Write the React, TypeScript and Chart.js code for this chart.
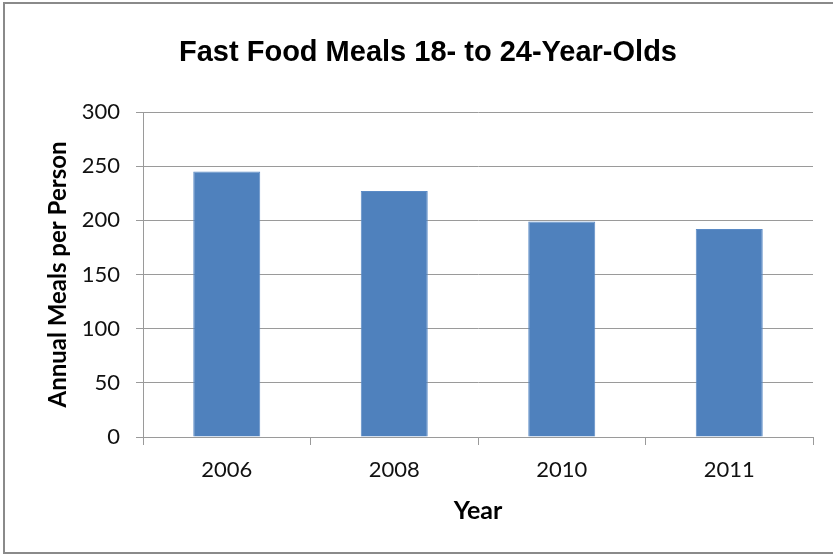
import React, { useEffect, useRef } from "react";
import { Chart, registerables } from "chart.js";

Chart.register(...registerables);

const years: string[] = ["2006", "2008", "2010", "2011"];
const meals: number[] = [245, 227, 199, 192];
const yTicks: number[] = [0, 50, 100, 150, 200, 250, 300];

const chartTitle = "Fast Food Meals 18- to 24-Year-Olds";
const xTitle = "Year";
const yTitle = "Annual Meals per Person";

const GRID = "#9a9a9a";

const framePlugin = {
  id: "frame",
  beforeDraw(chart: any) {
    const ctx = chart.ctx;
    ctx.save();
    ctx.fillStyle = "#ffffff";
    ctx.fillRect(0, 0, chart.width, chart.height);
    ctx.strokeStyle = "#8a8a8a";
    ctx.lineWidth = 2;
    ctx.strokeRect(4, 3, chart.width + 10, chart.height - 6);
    ctx.restore();
  },
};

export default function App() {
  const ref = useRef<HTMLCanvasElement | null>(null);

  useEffect(() => {
    if (!ref.current) return;
    const chart = new Chart(ref.current, {
      type: "bar",
      data: {
        labels: years,
        datasets: [
          {
            data: meals,
            backgroundColor: "#4f81bd",
            borderColor: "#5b8bc6",
            borderWidth: 1,
            categoryPercentage: 1,
            barPercentage: 0.4,
          },
        ],
      },
      plugins: [framePlugin],
      options: {
        responsive: false,
        animation: false,
        layout: { padding: { left: 43, right: 20, top: 0, bottom: 0 } },
        plugins: {
          legend: { display: false },
          tooltip: { enabled: false },
          title: {
            display: true,
            text: chartTitle,
            color: "#000000",
            font: { family: "'Liberation Sans', Arial", weight: "bold", size: 29, lineHeight: 1.2 },
            padding: { top: 35.1, bottom: 42.1 },
          },
        },
        scales: {
          x: {
            offset: true,
            grid: {
              drawOnChartArea: false,
              drawTicks: true,
              tickLength: 8,
              color: GRID,
              offset: true,
            },
            border: { display: true, color: GRID, width: 1 },
            ticks: {
              color: "#111111",
              font: { family: "Lato", size: 22 },
              padding: 12,
            },
            title: {
              display: true,
              text: xTitle,
              color: "#000000",
              font: { family: "Lato", weight: "bold", size: 25, lineHeight: 1.2 },
              padding: { top: 0, bottom: 30.5 },
            },
            afterFit(scale: any) {
              scale.height = 119;
            },
          },
          y: {
            min: 0,
            max: 300,
            afterBuildTicks(scale: any) {
              scale.ticks = yTicks.map((v) => ({ value: v }));
            },
            grid: {
              color: GRID,
              lineWidth: 1,
              drawTicks: true,
              tickLength: 7,
            },
            border: { display: true, color: GRID, width: 1 },
            ticks: {
              color: "#111111",
              font: { family: "Lato", size: 22 },
              padding: 16,
            },
            title: {
              display: true,
              text: yTitle,
              color: "#000000",
              font: { family: "Lato", weight: "bold", size: 24, lineHeight: 1.2 },
              padding: { top: 0.6, bottom: 0 },
            },
            afterFit(scale: any) {
              scale.width = 100;
            },
          },
        },
      },
    });
    return () => chart.destroy();
  }, []);

  return (
    <div style={{ position: "absolute", left: 0, top: 0, width: 833, height: 556 }}>
      <canvas ref={ref} width={833} height={556} style={{ display: "block" }} />
    </div>
  );
}
